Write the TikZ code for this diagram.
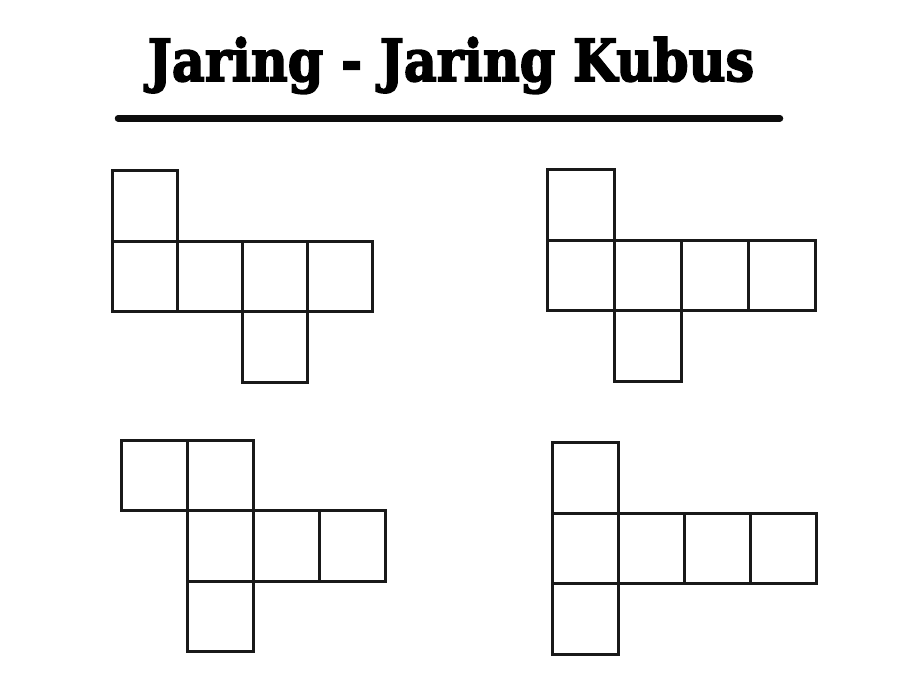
\documentclass[tikz,border=0pt]{standalone}
\usepackage{fontspec}
\usepackage{graphicx}
\usetikzlibrary{positioning}
\newfontfamily\titlefont[FakeBold=3]{DejaVu Serif}

\begin{document}
\begin{tikzpicture}[x=1pt,y=-1pt]
\tikzstyle{face}=[rectangle, draw=black!90, line width=3pt, minimum width=66pt, minimum height=70.5pt, inner sep=0pt, outer sep=0pt]
\tikzstyle{rule}=[line width=6.5pt, line cap=round, draw=black!95]
\useasboundingbox (0,0) rectangle (900,675);
  % judul
  \node[anchor=base, inner sep=0pt] (title) at (451,81)
    {\resizebox{606pt}{44pt}{\titlefont\bfseries Jaring - Jaring Kubus}};
  \coordinate (r1) at (118,118.3);
  \coordinate (r2) at (780,118.3);
  \draw[rule] (r1) -- (r2);
  % jaring kiri atas
  \begin{scope}[face/.append style={minimum width=65pt}]
  \node[face] (a1) at (144.5,205.75) {};
  \node[face] (a2) [below=0pt of a1] {};
  \node[face] (a3) [right=0pt of a2] {};
  \node[face] (a4) [right=0pt of a3] {};
  \node[face] (a5) [right=0pt of a4] {};
  \node[face] (a6) [below=0pt of a4] {};
  \end{scope}
  % jaring kanan atas
  \begin{scope}[face/.append style={minimum width=67pt}]
  \node[face] (b1) at (580.5,204.75) {};
  \node[face] (b2) [below=0pt of b1] {};
  \node[face] (b3) [right=0pt of b2] {};
  \node[face] (b4) [right=0pt of b3] {};
  \node[face] (b5) [right=0pt of b4] {};
  \node[face] (b6) [below=0pt of b3] {};
  \end{scope}
  % jaring kiri bawah
  \node[face] (c1) at (154,475.25) {};
  \node[face] (c2) [right=0pt of c1] {};
  \node[face] (c3) [below=0pt of c2] {};
  \node[face] (c4) [right=0pt of c3] {};
  \node[face] (c5) [right=0pt of c4] {};
  \node[face] (c6) [below=0pt of c3] {};
  % jaring kanan bawah
  \node[face] (d1) at (585,477.75) {};
  \node[face] (d2) [below=0pt of d1] {};
  \node[face] (d3) [right=0pt of d2] {};
  \node[face] (d4) [right=0pt of d3] {};
  \node[face] (d5) [right=0pt of d4] {};
  \node[face] (d6) [below=0pt of d2] {};
\end{tikzpicture}
\end{document}
